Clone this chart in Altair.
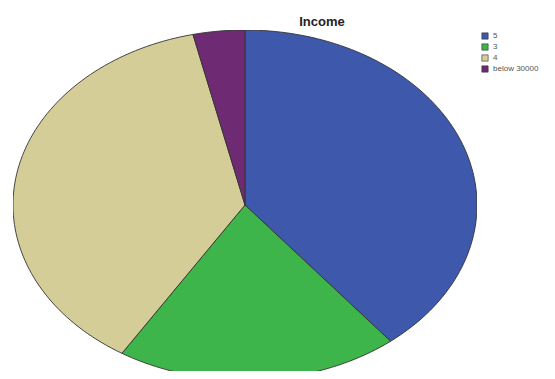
import numpy as np
import pandas as pd
import altair as alt

categories = ["5", "3", "4", "below 30000"]
values = [39.2, 19.7, 37.5, 3.6]
colors = ["#3E58AC", "#3DB54A", "#D4CD97", "#6E2A72"]

# Build elliptical pie slices (polygons) from values
total = sum(values)
rows = []
start = 0.0
for cat, v in zip(categories, values):
    end = start + v / total * 2 * np.pi
    n = max(4, int(240 * v / total))
    idx = 0
    rows.append({"cat": cat, "i": idx, "x": 0.0, "y": 0.0}); idx += 1
    for t in np.linspace(start, end, n):
        rows.append({"cat": cat, "i": idx, "x": float(np.sin(t)), "y": float(np.cos(t))}); idx += 1
    rows.append({"cat": cat, "i": idx, "x": 0.0, "y": 0.0})
    start = end
df = pd.DataFrame(rows)

chart = alt.Chart(df).mark_line(
    filled=True, stroke="#333333", strokeWidth=0.9, strokeJoin="round", clip=True
).encode(
    x=alt.X("x:Q", scale=alt.Scale(domain=[-1, 1], nice=False, zero=False), axis=None),
    y=alt.Y("y:Q", scale=alt.Scale(domain=[-0.9486, 1], nice=False, zero=False), axis=None),
    detail="cat:N",
    order="i:Q",
    color=alt.Color(
        "cat:N",
        scale=alt.Scale(domain=categories, range=colors),
        sort=categories,
        legend=alt.Legend(
            title=None, orient="none", legendX=468, legendY=2,
            symbolType="square", symbolSize=40, symbolStrokeColor="#333",
            symbolStrokeWidth=0.6, labelFontSize=8, labelColor="#555",
            rowPadding=1, labelOffset=4, labelFont="Liberation Sans",
        ),
    ),
).properties(
    width=464, height=341,
    title=alt.TitleParams("Income", dx=77, fontSize=13, fontWeight="bold",
                          font="Liberation Sans", offset=1, color="#222"),
    autosize=alt.AutoSizeParams(type="none"),
    padding={"left": 5, "top": 22, "right": 70, "bottom": 0},
).configure_view(stroke=None)

chart.save("out.html", embed_options={"renderer": "svg", "actions": False})
